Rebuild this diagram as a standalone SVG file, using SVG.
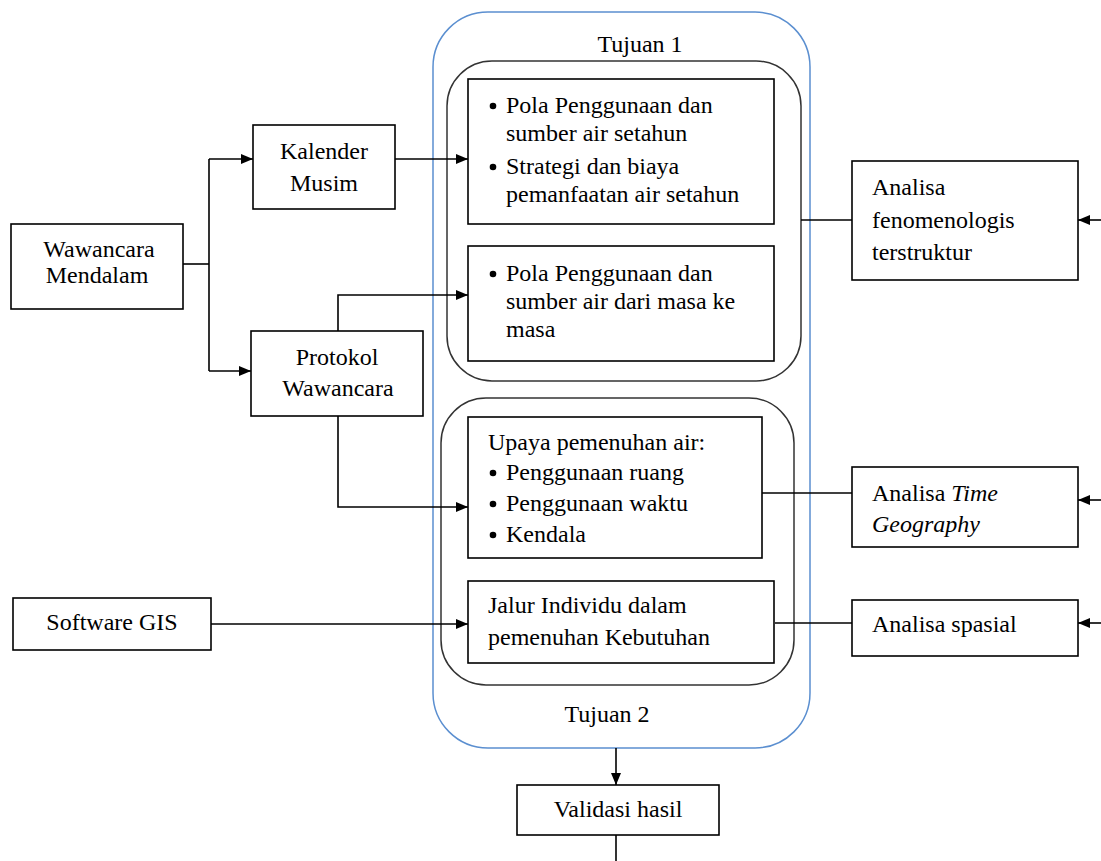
<svg xmlns="http://www.w3.org/2000/svg" width="1101" height="861" viewBox="0 0 1101 861">
<style>
.box{fill:#fff;stroke:#000;stroke-width:1.6}
.grp{fill:none;stroke:#333;stroke-width:1.5}
.blue{fill:none;stroke:#5B8FD0;stroke-width:1.5}
text{font-size:24px;fill:#000}
.c{text-anchor:middle}
.ln{fill:none;stroke:#000;stroke-width:1.6}
.dot{fill:#000}
</style>
<defs>
<marker id="arr" markerUnits="userSpaceOnUse" markerWidth="12" markerHeight="10" refX="12" refY="5" orient="auto">
<path d="M0,0 L12,5 L0,10 z" fill="#000"/>
</marker>
</defs>
<rect width="1101" height="861" fill="#fff"/>
<g font-family="Liberation Serif, DejaVu Serif, serif">
<g id="tujuan-container">
<rect class="blue" x="433" y="12" width="377" height="736" rx="55"/>
<text class="c" x="640" y="52">Tujuan 1</text>
<text class="c" x="607" y="722">Tujuan 2</text>
</g>
<g id="group1"><rect class="grp" x="447" y="61" width="354" height="320" rx="45"/></g>
<g id="group2"><rect class="grp" x="441" y="398" width="353" height="287" rx="45"/></g>
<g id="connectors">
<polyline class="ln" points="183,264 209,264"/>
<polyline class="ln" points="209,159 209,371"/>
<line class="ln" x1="209" y1="159" x2="253" y2="159" marker-end="url(#arr)"/>
<line class="ln" x1="209" y1="371" x2="251" y2="371" marker-end="url(#arr)"/>
<line class="ln" x1="395" y1="159" x2="468" y2="159" marker-end="url(#arr)"/>
<polyline class="ln" points="338,331 338,295 468,295" marker-end="url(#arr)"/>
<polyline class="ln" points="338,416 338,507 468,507" marker-end="url(#arr)"/>
<line class="ln" x1="211" y1="624" x2="468" y2="624" marker-end="url(#arr)"/>
<line class="ln" x1="801" y1="220" x2="852" y2="220"/>
<line class="ln" x1="762" y1="493" x2="852" y2="493"/>
<line class="ln" x1="775" y1="623" x2="852" y2="623"/>
<line class="ln" x1="1101" y1="220" x2="1078" y2="220" marker-end="url(#arr)"/>
<line class="ln" x1="1101" y1="500" x2="1078" y2="500" marker-end="url(#arr)"/>
<line class="ln" x1="1101" y1="623" x2="1078" y2="623" marker-end="url(#arr)"/>
<line class="ln" x1="616" y1="748" x2="616" y2="785" marker-end="url(#arr)"/>
<line class="ln" x1="616" y1="835" x2="616" y2="861"/>
</g>
<g id="wawancara-mendalam">
<rect class="box" x="11" y="224" width="172" height="85"/>
<text class="c" x="99" y="257">Wawancara</text>
<text class="c" x="97" y="283">Mendalam</text>
</g>
<g id="kalender-musim">
<rect class="box" x="253" y="125" width="142" height="84"/>
<text class="c" x="324" y="159">Kalender</text>
<text class="c" x="324" y="191">Musim</text>
</g>
<g id="protokol-wawancara">
<rect class="box" x="251" y="331" width="172" height="85"/>
<text class="c" x="337" y="365">Protokol</text>
<text class="c" x="338" y="396">Wawancara</text>
</g>
<g id="software-gis">
<rect class="box" x="13" y="598" width="198" height="52"/>
<text class="c" x="112" y="630">Software GIS</text>
</g>
<g id="box-pola-setahun">
<rect class="box" x="468" y="79" width="306" height="145"/>
<circle class="dot" cx="493" cy="106" r="3.3"/><text x="506" y="113">Pola Penggunaan dan</text>
<text x="506" y="141">sumber air setahun</text>
<circle class="dot" cx="493" cy="167" r="3.3"/><text x="506" y="174">Strategi dan biaya</text>
<text x="506" y="202">pemanfaatan air setahun</text>
</g>
<g id="box-pola-masa">
<rect class="box" x="468" y="246" width="306" height="115"/>
<circle class="dot" cx="493" cy="274" r="3.3"/><text x="506" y="281">Pola Penggunaan dan</text>
<text x="506" y="309">sumber air dari masa ke</text>
<text x="506" y="337">masa</text>
</g>
<g id="box-upaya">
<rect class="box" x="468" y="417" width="294" height="141"/>
<text x="488" y="450">Upaya pemenuhan air:</text>
<circle class="dot" cx="493" cy="473" r="3.3"/><text x="506" y="480">Penggunaan ruang</text>
<circle class="dot" cx="493" cy="504" r="3.3"/><text x="506" y="511">Penggunaan waktu</text>
<circle class="dot" cx="493" cy="535" r="3.3"/><text x="506" y="542">Kendala</text>
</g>
<g id="box-jalur">
<rect class="box" x="468" y="581" width="306" height="82"/>
<text x="488" y="613">Jalur Individu dalam</text>
<text x="488" y="645">pemenuhan Kebutuhan</text>
</g>
<g id="analisa-fenomenologis">
<rect class="box" x="852" y="161" width="226" height="119"/>
<text x="872" y="195">Analisa</text>
<text x="872" y="228">fenomenologis</text>
<text x="872" y="260">terstruktur</text>
</g>
<g id="analisa-time-geography">
<rect class="box" x="852" y="467" width="226" height="80"/>
<text x="872" y="501">Analisa <tspan font-style="italic">Time</tspan></text>
<text x="872" y="532" font-style="italic">Geography</text>
</g>
<g id="analisa-spasial">
<rect class="box" x="852" y="600" width="226" height="56"/>
<text x="872" y="632">Analisa spasial</text>
</g>
<g id="validasi-hasil">
<rect class="box" x="517" y="785" width="202" height="50"/>
<text class="c" x="618" y="817">Validasi hasil</text>
</g>
</g>
</svg>
